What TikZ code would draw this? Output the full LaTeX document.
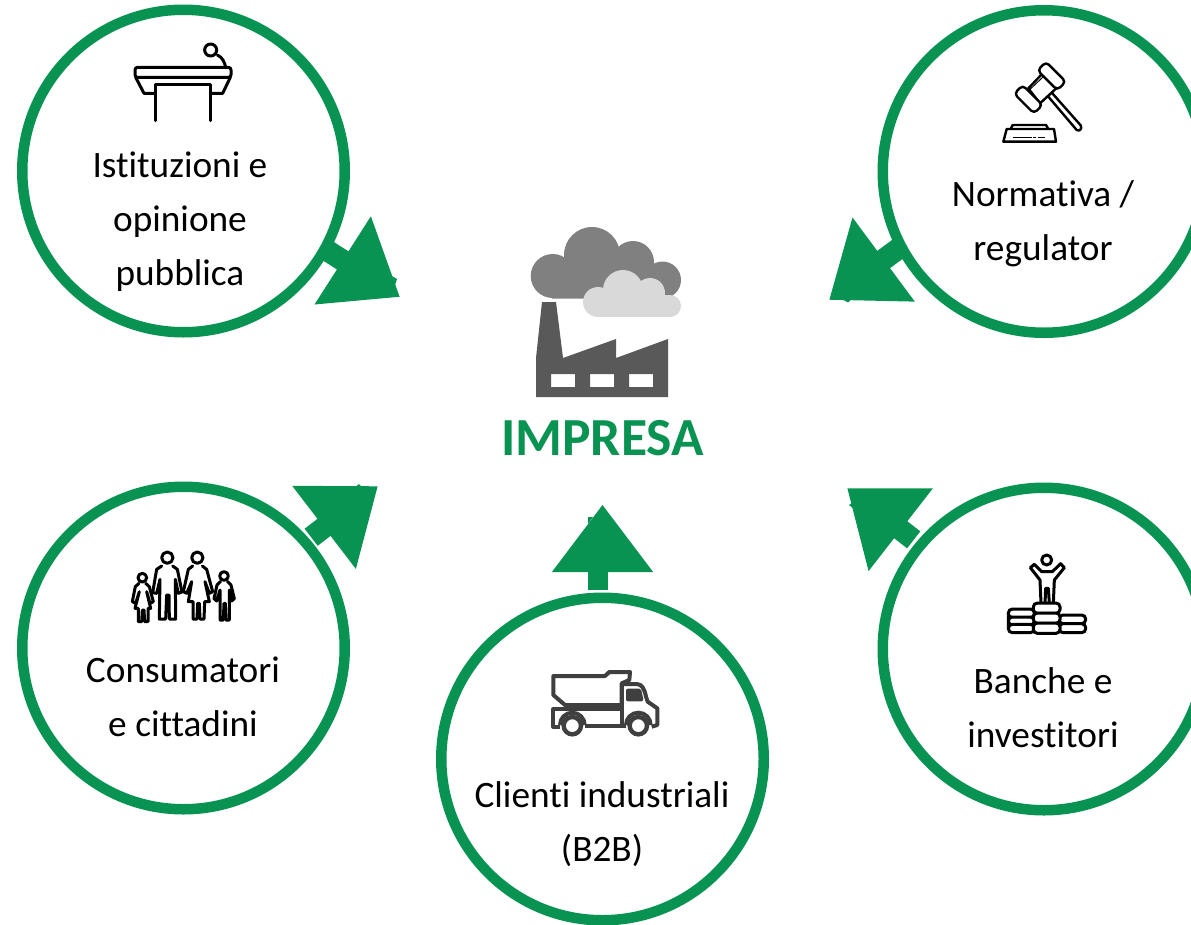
\documentclass[tikz,border=0pt]{standalone}
\usepackage{fontspec}
\setmainfont{Carlito}[Ligatures=NoCommon]
\usetikzlibrary{arrows.meta}
\definecolor{ringgreen}{HTML}{099352}
\definecolor{smokedark}{HTML}{808080}
\definecolor{smokelight}{HTML}{D9D9D9}
\definecolor{plant}{HTML}{595959}
\definecolor{truckgrey}{HTML}{3F3F3F}
\tikzset{
  ring/.style={circle,draw=ringgreen,line width=10.5pt,minimum size=322.5pt,inner sep=0pt},
  flow/.style={ringgreen,line width=21.5pt,-{Triangle[length=68pt,width=100pt]}},
  shaftonly/.style={ringgreen,line width=20pt},
  headonly/.style={ringgreen,line width=1pt,-{Triangle[length=67pt,width=101pt]}},
  bump/.style={fill=ringgreen,draw=none},
  caption/.style={inner sep=0pt,anchor=base,font=\fontsize{37.3}{54}\selectfont,text=black},
  icon/.style={draw=black,line width=3pt,line join=round,line cap=round},
  coin/.style={draw=black,line width=3pt,fill=white,rounded corners=4pt},
  thinicon/.style={draw=black,line width=2.4pt,line join=round,line cap=round},
  truckline/.style={draw=truckgrey,line width=4pt,line join=round},
}
\newcommand{\twolines}[2]{\begin{tabular}[t]{@{}c@{}}#1\\#2\end{tabular}}
\newcommand{\threelines}[3]{\begin{tabular}[t]{@{}c@{}}#1\\#2\\#3\end{tabular}}
\begin{document}
\begin{tikzpicture}[x=1pt,y=-1pt]
\useasboundingbox (0,0) rectangle (1191,924);

% rings
\node[ring] (tl) at (183.5,171) {};
\node[ring] (tr) at (1044,171.5) {};
\node[ring] (bl) at (183.5,648) {};
\node[ring] (br) at (1044,649) {};
\node[ring] (bm) at (602.5,759) {};

% arrow ends
\coordinate (tltip) at (400,297);
\coordinate (trtip) at (829,300);
\coordinate (bltip) at (378,486);
\coordinate (brtip) at (847,488);
\coordinate (bmtip) at (602.5,505);
\coordinate (bmneck) at (598,570);
\coordinate (bmhead) at (602.5,572);

% connectors
\draw[flow,shorten <=-3pt] (tl.-29) -- (tltip);
\draw[flow,shorten <=-3pt] (tr.208) -- (trtip);
\draw[flow,shorten <=2.5pt] (bl.41) -- (bltip);
\draw[flow,shorten <=3.5pt] (br.140.6) -- (brtip);
\draw[shaftonly] ([xshift=-4.5pt,yshift=3pt]bm.north) -- (bmneck);
\draw[headonly] (bmhead) -- (bmtip);

% small nicks on the arrows
\fill[bump] (392,276) -- (397,279) -- (395,285) -- cycle;
\fill[bump] (842,299) -- (848,302.5) -- (853,298) -- cycle;
\fill[bump] (354,488) -- (359,484) -- (363,488) -- cycle;
\fill[bump] (852,503) -- (849,505) -- (854,509) -- cycle;
\fill[bump] (588,524) -- (588,517) -- (593,517) -- cycle;

% captions
\node[caption] (tltext) at (180,177.5) {\threelines{Istituzioni e}{opinione}{pubblica}};
\node[caption] (trtext) at (1043,206) {\twolines{Normativa /}{regulator}};
\node[caption] (bltext) at (183,682.5) {\twolines{Consumatori}{e cittadini}};
\node[caption] (brtext) at (1043,693) {\twolines{Banche e}{investitori}};
\node[caption] (bmtext) at (602,807) {\twolines{Clienti industriali}{(B2B)}};
\node[inner sep=0pt,anchor=base,font=\fontsize{53.6}{60}\selectfont\bfseries,text=ringgreen] (impresa) at (602.5,455) {IMPRESA};

% factory and clouds
\fill[smokedark] (552.7,276) circle (22) (592,255) circle (28) (633,262) circle (21) (662.5,280) circle (18.5);
\fill[smokedark] (552,270) rectangle (662,298.5) (575,250) rectangle (640,280);
\fill[smokelight] (598,302) circle (15) (623,290) circle (20) (650,293) circle (15) (670,306) circle (11);
\fill[smokelight] (598,295) rectangle (670,317);
\fill[plant,even odd rule] (542,302) -- (556,302) -- (563,358) -- (616,339) -- (616,358) -- (668,339) -- (668,397) -- (536,397) -- (536,358) -- cycle
  (551,374) rectangle (575,387) (590,374) rectangle (614,387) (629,374) rectangle (653,387);

% lectern
\begin{scope}[shift={(110,30)},scale=1/3]
\draw[icon] (302,60) circle (18);
\draw[icon] (322,75) .. controls (338,82) and (344,98) .. (347,112);
\draw[icon,rounded corners=2.5pt] (75,112) rectangle (363,142);
\draw[icon] (77,142) -- (102,190) -- (135,190);
\draw[icon] (361,142) -- (338,190) -- (302,190);
\draw[icon] (135,272) -- (135,162) -- (302,162) -- (302,272);
\end{scope}

% gavel
\begin{scope}[shift={(980,60)},scale=1/3]
\draw[thinicon,fill=white] (205,110) -- (290,210) .. controls (298,216) and (308,206) .. (302,196) -- (217,100);
\draw[thinicon,fill=white] (145,85) -- (190,38) -- (232,82) -- (180,130) -- cycle;
\draw[thinicon,fill=white,rounded corners=4pt,rotate around={-45:(215,48)}] (173,30) rectangle (257,66);
\draw[thinicon,fill=white,rounded corners=4pt,rotate around={-45:(145,118)}] (103,100) rectangle (187,136);
\draw[draw=black,line width=1pt] (150,88) -- (188,52);
\draw[thinicon] (92,207) -- (98,195) -- (198,195) -- (205,207);
\draw[thinicon] (80,207) -- (222,207) -- (228,245) -- (70,245) -- cycle;
\draw[draw=black,line width=1.2pt] (98,232) -- (155,232);
\draw[draw=black,line width=1.2pt] (160,232) -- (167,232) (175,232) -- (195,232);
\end{scope}

% family
\begin{scope}[shift={(120,540)},scale=1/3]
\draw[icon] (67,113) circle (13);
\draw[icon] (142,53) circle (17);
\draw[icon] (232,53) circle (17);
\draw[icon] (312,108) circle (13);
\draw[icon] (125,78) -- (110,88) -- (98,158) -- (110,160) -- (120,118) -- (118,237) -- (137,237) -- (140,165) -- (147,165) -- (148,237) -- (167,237) -- (166,118) -- (175,160) -- (186,156) -- (172,88) -- (158,78);
\draw[icon] (218,78) -- (205,88) -- (190,155) -- (200,160) -- (215,125) -- (205,185) -- (219,185) -- (219,237) -- (231,237) -- (233,190) -- (238,190) -- (240,237) -- (252,237) -- (254,185) -- (268,185) -- (255,125) -- (268,160) -- (278,155) -- (260,88) -- (247,78);
\draw[icon] (57,130) -- (46,140) -- (37,185) -- (47,190) -- (58,155) -- (45,205) -- (55,205) -- (55,245) -- (65,245) -- (67,210) -- (72,210) -- (74,245) -- (84,245) -- (84,205) -- (92,205) -- (80,155) -- (90,190) -- (100,185) -- (88,140) -- (77,130);
\draw[icon] (302,124) -- (291,135) -- (282,176) -- (290,183) -- (300,150) -- (300,240) -- (310,240) -- (312,190) -- (316,190) -- (318,240) -- (328,240) -- (328,150) -- (335,183) -- (343,176) -- (333,135) -- (322,124);
\end{scope}

% truck
\begin{scope}[shift={(540,660)},scale=1/3]
\draw[truckline] (40,48) -- (195,48) -- (208,36) -- (270,36) -- (268,60) -- (245,70) -- (245,135) -- (75,135) -- (40,105) -- cycle;
\draw[truckline] (60,200) -- (40,200) -- (40,147) -- (245,147);
\draw[truckline] (135,197) -- (245,197) -- (245,70);
\draw[truckline] (245,72) -- (290,72) .. controls (305,72) and (313,85) .. (318,110) -- (323,125) -- (352,145) -- (352,195) -- (335,200);
\draw[truckline] (245,197) -- (258,197);
\draw[truckline,fill=truckgrey] (264,92) -- (298,92) -- (304,118) -- (264,118) -- cycle;
\draw[truckline] (60,195) arc (180:360:37);
\draw[truckline] (258,195) arc (180:360:37);
\draw[draw=truckgrey,line width=4.4pt,fill=white] (97,197) circle (26);
\draw[draw=truckgrey,line width=4.4pt,fill=white] (295,197) circle (26);
\end{scope}

% investor on coins
\begin{scope}[shift={(995,545)},scale=1/3]
\draw[icon] (155,45) circle (15);
\draw[icon] (140,80) -- (118,58) -- (106,68) -- (135,105) -- (138,175) -- (150,175) -- (152,130) -- (160,130) -- (163,175) -- (175,175) -- (178,105) -- (208,68) -- (197,56) -- (172,80) -- cycle;
\draw[coin] (40,192) rectangle (118,218);
\draw[coin] (40,216) rectangle (118,240);
\draw[coin] (40,238) rectangle (118,263);
\draw[coin] (192,210) rectangle (272,236);
\draw[coin] (192,236) rectangle (272,263);
\draw[coin] (115,174) rectangle (195,205);
\draw[coin] (115,204) rectangle (195,235);
\draw[coin] (115,234) rectangle (195,265);
\end{scope}
\end{tikzpicture}
\end{document}
